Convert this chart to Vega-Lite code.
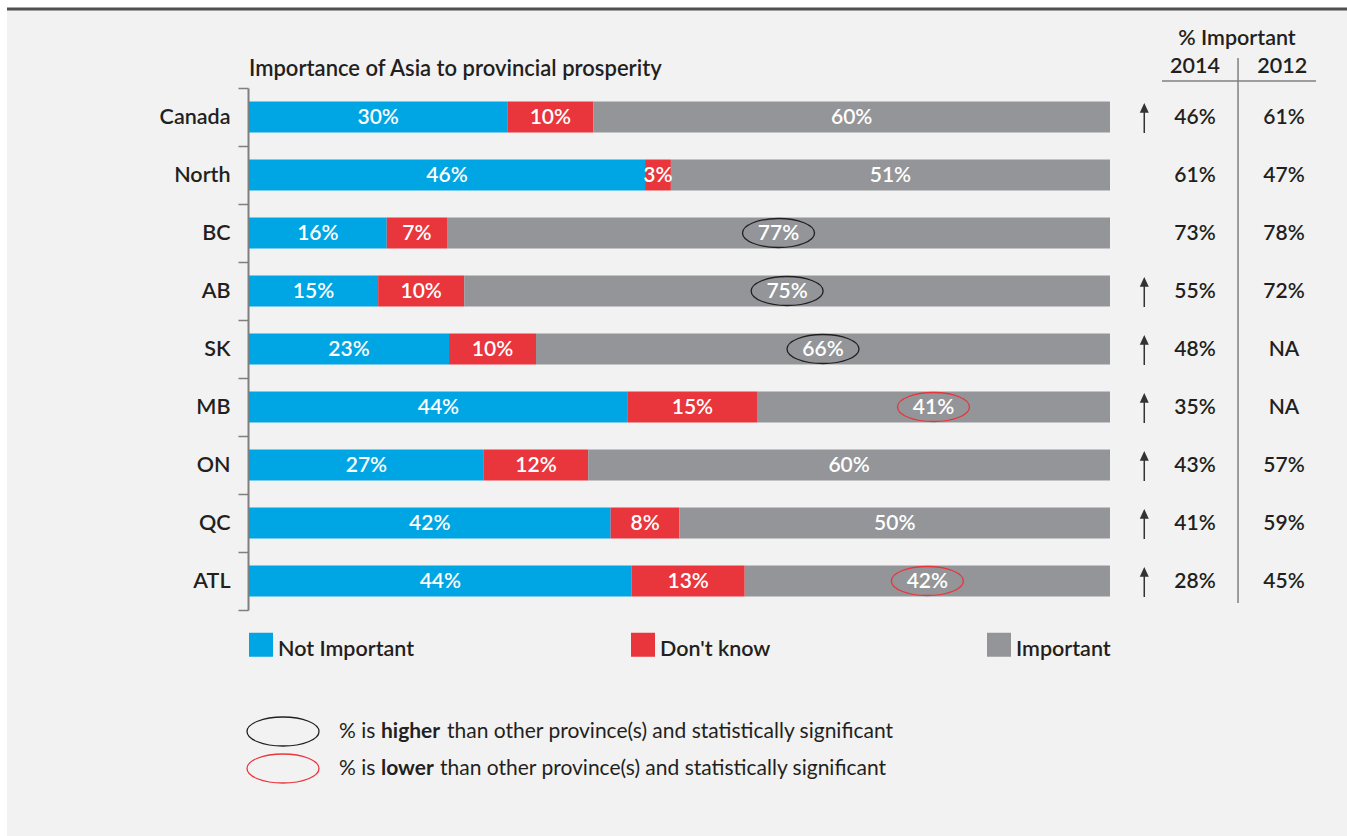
{
  "$schema": "https://vega.github.io/schema/vega-lite/v6.json",
  "width": 1340,
  "height": 827,
  "autosize": {"type": "none"},
  "padding": {"left": 7, "top": 9, "right": 0, "bottom": 0},
  "background": "#ffffff",
  "config": {
    "view": {"fill": "#f2f2f2", "stroke": "#505050", "strokeWidth": 3, "strokeDash": [1340, 6000]},
    "font": "Lato",
    "text": {"font": "Lato"}
  },
  "title": {
    "text": "Importance of Asia to provincial prosperity",
    "anchor": "start", "frame": "group", "offset": 0, "baseline": "alphabetic",
    "dx": 242, "dy": 100, "fontSize": 22, "fontWeight": 600, "font": "Lato", "color": "#231f20"
  },
  "datasets": {
    "segments": [
      {"province": "Canada", "cat": "Not Important", "ord": 1, "pct": 0.30, "sig": null},
      {"province": "Canada", "cat": "Don't know", "ord": 2, "pct": 0.10, "sig": null},
      {"province": "Canada", "cat": "Important", "ord": 3, "pct": 0.60, "sig": null},
      {"province": "North", "cat": "Not Important", "ord": 1, "pct": 0.46, "sig": null},
      {"province": "North", "cat": "Don't know", "ord": 2, "pct": 0.03, "sig": null},
      {"province": "North", "cat": "Important", "ord": 3, "pct": 0.51, "sig": null},
      {"province": "BC", "cat": "Not Important", "ord": 1, "pct": 0.16, "sig": null},
      {"province": "BC", "cat": "Don't know", "ord": 2, "pct": 0.07, "sig": null},
      {"province": "BC", "cat": "Important", "ord": 3, "pct": 0.77, "sig": "higher"},
      {"province": "AB", "cat": "Not Important", "ord": 1, "pct": 0.15, "sig": null},
      {"province": "AB", "cat": "Don't know", "ord": 2, "pct": 0.10, "sig": null},
      {"province": "AB", "cat": "Important", "ord": 3, "pct": 0.75, "sig": "higher"},
      {"province": "SK", "cat": "Not Important", "ord": 1, "pct": 0.23, "sig": null},
      {"province": "SK", "cat": "Don't know", "ord": 2, "pct": 0.10, "sig": null},
      {"province": "SK", "cat": "Important", "ord": 3, "pct": 0.66, "sig": "higher"},
      {"province": "MB", "cat": "Not Important", "ord": 1, "pct": 0.44, "sig": null},
      {"province": "MB", "cat": "Don't know", "ord": 2, "pct": 0.15, "sig": null},
      {"province": "MB", "cat": "Important", "ord": 3, "pct": 0.41, "sig": "lower"},
      {"province": "ON", "cat": "Not Important", "ord": 1, "pct": 0.27, "sig": null},
      {"province": "ON", "cat": "Don't know", "ord": 2, "pct": 0.12, "sig": null},
      {"province": "ON", "cat": "Important", "ord": 3, "pct": 0.60, "sig": null},
      {"province": "QC", "cat": "Not Important", "ord": 1, "pct": 0.42, "sig": null},
      {"province": "QC", "cat": "Don't know", "ord": 2, "pct": 0.08, "sig": null},
      {"province": "QC", "cat": "Important", "ord": 3, "pct": 0.50, "sig": null},
      {"province": "ATL", "cat": "Not Important", "ord": 1, "pct": 0.44, "sig": null},
      {"province": "ATL", "cat": "Don't know", "ord": 2, "pct": 0.13, "sig": null},
      {"province": "ATL", "cat": "Important", "ord": 3, "pct": 0.42, "sig": "lower"}
    ],
    "provinces": [
      {"province": "Canada", "v2014": 0.46, "v2012": 0.61, "arrow": true},
      {"province": "North", "v2014": 0.61, "v2012": 0.47, "arrow": false},
      {"province": "BC", "v2014": 0.73, "v2012": 0.78, "arrow": false},
      {"province": "AB", "v2014": 0.55, "v2012": 0.72, "arrow": true},
      {"province": "SK", "v2014": 0.48, "v2012": null, "arrow": true},
      {"province": "MB", "v2014": 0.35, "v2012": null, "arrow": true},
      {"province": "ON", "v2014": 0.43, "v2012": 0.57, "arrow": true},
      {"province": "QC", "v2014": 0.41, "v2012": 0.59, "arrow": true},
      {"province": "ATL", "v2014": 0.28, "v2012": 0.45, "arrow": true}
    ]
  },
  "data": {"name": "segments"},
  "layer": [
    {
      "mark": {"type": "bar", "height": {"band": 0.534}},
      "encoding": {
        "y": {
          "field": "province", "type": "nominal", "sort": null, "title": null,
          "scale": {"domain": ["Canada", "North", "BC", "AB", "SK", "MB", "ON", "QC", "ATL"], "range": [79, 601], "paddingInner": 0, "paddingOuter": 0},
          "axis": {
            "title": null, "orient": "left", "offset": -241, "grid": false,
            "domainColor": "#7f7f7f", "domainWidth": 2,
            "tickBand": "extent", "tickSize": 10, "tickColor": "#7f7f7f", "tickWidth": 1.5,
            "labelPadding": 8, "labelFontSize": 21.5, "labelFont": "Lato", "labelFontWeight": 600, "labelColor": "#231f20", "labelLimit": 0
          }
        },
        "x": {
          "field": "pct", "type": "quantitative", "stack": "normalize",
          "scale": {"domain": [0, 1], "range": [242, 1103], "nice": false, "zero": false},
          "axis": null
        },
        "color": {
          "field": "cat", "type": "nominal",
          "scale": {"domain": ["Not Important", "Don't know", "Important"], "range": ["#00a5e3", "#e9353c", "#939598"]},
          "legend": {
            "title": null, "orient": "none", "legendX": 242, "legendY": 629, "direction": "horizontal",
            "symbolType": "M-1,-1.458H1V0.542H-1Z", "symbolSize": 576, "symbolStrokeWidth": 0, "symbolOpacity": 1,
            "labelFontSize": 21.5, "labelFont": "Lato", "labelFontWeight": 600, "labelColor": "#231f20",
            "labelOffset": 5, "columnPadding": 216, "padding": 0, "labelLimit": 0
          }
        },
        "order": {"field": "ord", "type": "quantitative"}
      }
    },
    {
      "mark": {"type": "point", "shape": "M-1,0C-1,-0.2226 -0.5523,-0.403 0,-0.403C0.5523,-0.403 1,-0.2226 1,0C1,0.2226 0.5523,0.403 0,0.403C-0.5523,0.403 -1,0.2226 -1,0Z", "size": 5184, "filled": false, "strokeWidth": 1.3, "opacity": 1},
      "encoding": {
        "y": {"field": "province", "type": "nominal", "sort": null, "title": null},
        "x": {"field": "pct", "type": "quantitative", "stack": "normalize", "bandPosition": 0.5, "axis": null},
        "detail": {"field": "cat"},
        "order": {"field": "ord", "type": "quantitative"},
        "stroke": {
          "condition": [
            {"test": "datum.sig === 'higher'", "value": "#231f20"},
            {"test": "datum.sig === 'lower'", "value": "#e9353c"}
          ],
          "value": "transparent"
        }
      }
    },
    {
      "mark": {"type": "text", "fill": "#ffffff", "fontSize": 21, "fontWeight": 600, "baseline": "middle", "dy": 1},
      "encoding": {
        "y": {"field": "province", "type": "nominal", "sort": null, "title": null},
        "x": {"field": "pct", "type": "quantitative", "stack": "normalize", "bandPosition": 0.5, "axis": null},
        "detail": {"field": "cat"},
        "order": {"field": "ord", "type": "quantitative"},
        "text": {"field": "pct", "type": "quantitative", "format": ".0%"}
      }
    },
    {
      "data": {"name": "provinces"},
      "transform": [{"filter": "datum.arrow"}],
      "mark": {"type": "point", "shape": "M0,-1L0.3,-0.35L0.05,-0.35L0.05,1L-0.05,1L-0.05,-0.35L-0.3,-0.35Z", "size": 900, "filled": true, "fill": "#333333", "strokeWidth": 0, "opacity": 1, "yOffset": 1},
      "encoding": {
        "y": {"field": "province", "type": "nominal", "sort": null, "title": null},
        "x": {"datum": 1.0398, "type": "quantitative", "axis": null}
      }
    },
    {
      "data": {"name": "provinces"},
      "mark": {"type": "text", "fill": "#231f20", "fontSize": 21, "fontWeight": 600, "baseline": "middle", "dy": 1},
      "encoding": {
        "y": {"field": "province", "type": "nominal", "sort": null, "title": null},
        "x": {"datum": 1.0987, "type": "quantitative", "axis": null},
        "text": {"field": "v2014", "type": "quantitative", "format": ".0%"}
      }
    },
    {
      "data": {"name": "provinces"},
      "mark": {"type": "text", "fill": "#231f20", "fontSize": 21, "fontWeight": 600, "baseline": "middle", "dy": 1},
      "encoding": {
        "y": {"field": "province", "type": "nominal", "sort": null, "title": null},
        "x": {"datum": 1.2021, "type": "quantitative", "axis": null},
        "text": {"condition": {"test": "datum.v2012 == null", "value": "NA"}, "field": "v2012", "type": "quantitative", "format": ".0%"}
      }
    },
    {
      "data": {"values": [{}]},
      "mark": {"type": "text", "fill": "#231f20", "fontSize": 21.5, "fontWeight": 600, "baseline": "middle", "yOffset": -78, "text": "% Important"},
      "encoding": {
        "y": {"datum": "Canada", "type": "nominal", "title": null},
        "x": {"datum": 1.1475, "type": "quantitative", "axis": null}
      }
    },
    {
      "data": {"values": [{}]},
      "mark": {"type": "text", "fill": "#231f20", "fontSize": 21.5, "fontWeight": 600, "baseline": "middle", "yOffset": -50, "text": "2014"},
      "encoding": {
        "y": {"datum": "Canada", "type": "nominal", "title": null},
        "x": {"datum": 1.0987, "type": "quantitative", "axis": null}
      }
    },
    {
      "data": {"values": [{}]},
      "mark": {"type": "text", "fill": "#231f20", "fontSize": 21.5, "fontWeight": 600, "baseline": "middle", "yOffset": -50, "text": "2012"},
      "encoding": {
        "y": {"datum": "Canada", "type": "nominal", "title": null},
        "x": {"datum": 1.2, "type": "quantitative", "axis": null}
      }
    },
    {
      "data": {"values": [{}]},
      "mark": {"type": "rule", "stroke": "#808080", "strokeWidth": 1.5, "yOffset": -36},
      "encoding": {
        "y": {"datum": "Canada", "type": "nominal", "title": null},
        "x": {"datum": 1.0604, "type": "quantitative", "axis": null},
        "x2": {"datum": 1.2393}
      }
    },
    {
      "data": {"values": [{}]},
      "mark": {"type": "rule", "stroke": "#808080", "strokeWidth": 1.5, "yOffset": -59, "y2Offset": 22},
      "encoding": {
        "y": {"datum": "Canada", "type": "nominal", "title": null},
        "y2": {"datum": "ATL"},
        "x": {"datum": 1.1487, "type": "quantitative", "axis": null}
      }
    },
    {
      "data": {"values": [{}]},
      "mark": {"type": "point", "shape": "M-1,0C-1,-0.2226 -0.5523,-0.403 0,-0.403C0.5523,-0.403 1,-0.2226 1,0C1,0.2226 0.5523,0.403 0,0.403C-0.5523,0.403 -1,0.2226 -1,0Z", "size": 5184, "filled": false, "stroke": "#231f20", "strokeWidth": 1.3, "opacity": 1, "yOffset": 150.5},
      "encoding": {
        "y": {"datum": "ATL", "type": "nominal", "title": null},
        "x": {"datum": 0.0395, "type": "quantitative", "axis": null}
      }
    },
    {
      "data": {"values": [{}]},
      "mark": {"type": "point", "shape": "M-1,0C-1,-0.2226 -0.5523,-0.403 0,-0.403C0.5523,-0.403 1,-0.2226 1,0C1,0.2226 0.5523,0.403 0,0.403C-0.5523,0.403 -1,0.2226 -1,0Z", "size": 5184, "filled": false, "stroke": "#e9353c", "strokeWidth": 1.3, "opacity": 1, "yOffset": 187.5},
      "encoding": {
        "y": {"datum": "ATL", "type": "nominal", "title": null},
        "x": {"datum": 0.0395, "type": "quantitative", "axis": null}
      }
    },
    {
      "data": {"values": [{"t": "% is"}]},
      "mark": {"type": "text", "fill": "#231f20", "fontSize": 21, "align": "left", "baseline": "middle", "yOffset": 150.5},
      "encoding": {
        "y": {"datum": "ATL", "type": "nominal", "title": null},
        "x": {"datum": 0.10453, "type": "quantitative", "axis": null},
        "text": {"field": "t"}
      }
    },
    {
      "data": {"values": [{"t": "higher"}]},
      "mark": {"type": "text", "fill": "#231f20", "fontSize": 21, "fontWeight": "bold", "align": "left", "baseline": "middle", "yOffset": 150.5, "dx": 42},
      "encoding": {
        "y": {"datum": "ATL", "type": "nominal", "title": null},
        "x": {"datum": 0.10453, "type": "quantitative", "axis": null},
        "text": {"field": "t"}
      }
    },
    {
      "data": {"values": [{"t": "than other province(s) and statistically significant"}]},
      "mark": {"type": "text", "fill": "#231f20", "fontSize": 21, "align": "left", "baseline": "middle", "yOffset": 150.5, "dx": 108},
      "encoding": {
        "y": {"datum": "ATL", "type": "nominal", "title": null},
        "x": {"datum": 0.10453, "type": "quantitative", "axis": null},
        "text": {"field": "t"}
      }
    },
    {
      "data": {"values": [{"t": "% is"}]},
      "mark": {"type": "text", "fill": "#231f20", "fontSize": 21, "align": "left", "baseline": "middle", "yOffset": 187.5},
      "encoding": {
        "y": {"datum": "ATL", "type": "nominal", "title": null},
        "x": {"datum": 0.10453, "type": "quantitative", "axis": null},
        "text": {"field": "t"}
      }
    },
    {
      "data": {"values": [{"t": "lower"}]},
      "mark": {"type": "text", "fill": "#231f20", "fontSize": 21, "fontWeight": "bold", "align": "left", "baseline": "middle", "yOffset": 187.5, "dx": 42},
      "encoding": {
        "y": {"datum": "ATL", "type": "nominal", "title": null},
        "x": {"datum": 0.10453, "type": "quantitative", "axis": null},
        "text": {"field": "t"}
      }
    },
    {
      "data": {"values": [{"t": "than other province(s) and statistically significant"}]},
      "mark": {"type": "text", "fill": "#231f20", "fontSize": 21, "align": "left", "baseline": "middle", "yOffset": 187.5, "dx": 101},
      "encoding": {
        "y": {"datum": "ATL", "type": "nominal", "title": null},
        "x": {"datum": 0.10453, "type": "quantitative", "axis": null},
        "text": {"field": "t"}
      }
    }
  ]
}
